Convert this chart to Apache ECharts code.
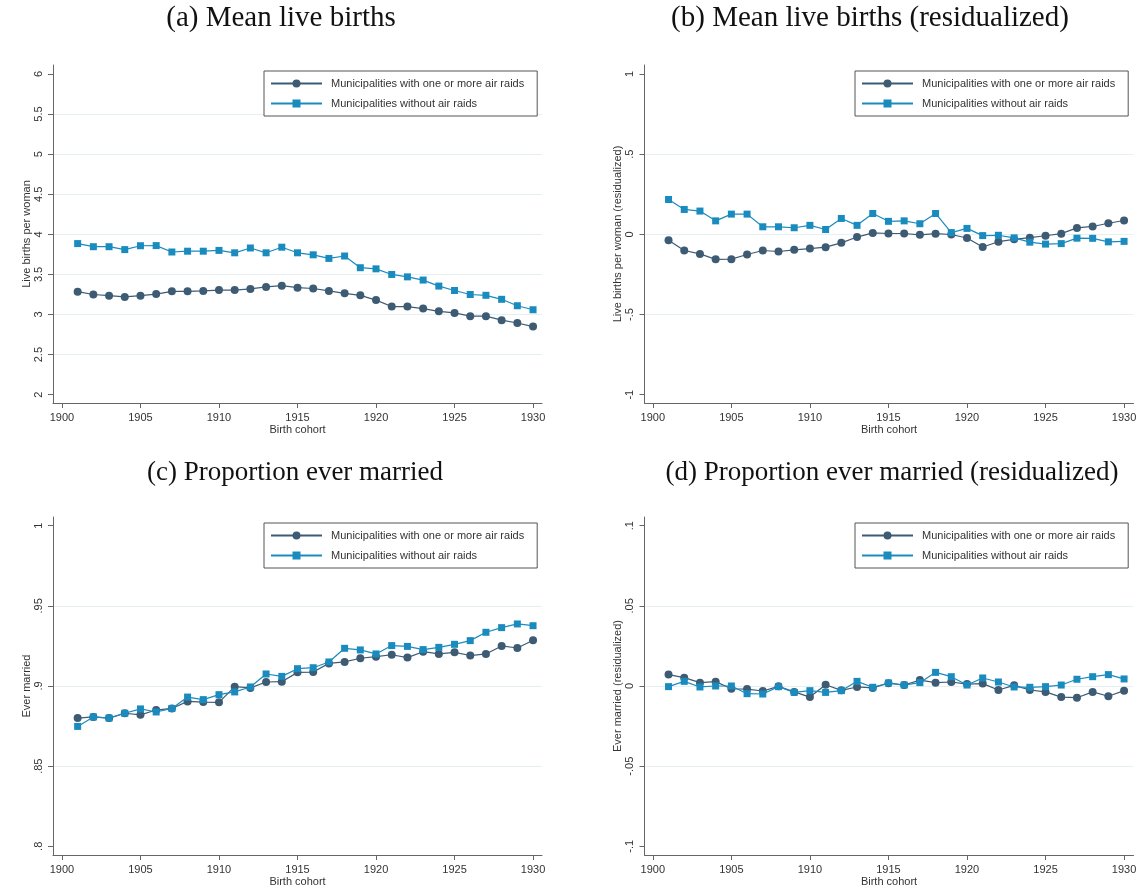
<!DOCTYPE html>
<html>
<head>
<meta charset="utf-8">
<title>Live births and marriage by air raid exposure</title>
<script src="https://cdn.jsdelivr.net/npm/echarts@6/dist/echarts.min.js"></script>
<style>
  html, body { margin: 0; padding: 0; background: #fff; }
  #chart { width: 1142px; height: 891px; }
</style>
</head>
<body>
<div id="chart"></div>
<script>
// birth cohorts on the x axis
const years = [1901, 1902, 1903, 1904, 1905, 1906, 1907, 1908, 1909, 1910,
  1911, 1912, 1913, 1914, 1915, 1916, 1917, 1918, 1919, 1920,
  1921, 1922, 1923, 1924, 1925, 1926, 1927, 1928, 1929, 1930];
const xTicks = [1900, 1905, 1910, 1915, 1920, 1925, 1930];

// (a) mean live births
const birthsRaid = [3.285, 3.25, 3.235, 3.22, 3.235, 3.255, 3.29, 3.29, 3.295, 3.305,
  3.305, 3.32, 3.345, 3.36, 3.335, 3.325, 3.295, 3.265, 3.24, 3.18,
  3.10, 3.10, 3.075, 3.04, 3.02, 2.98, 2.98, 2.93, 2.895, 2.85];
const birthsNoRaid = [3.885, 3.846, 3.846, 3.81, 3.858, 3.86, 3.78, 3.79, 3.79, 3.80,
  3.77, 3.83, 3.77, 3.84, 3.77, 3.745, 3.70, 3.73, 3.584, 3.57,
  3.50, 3.47, 3.43, 3.355, 3.30, 3.25, 3.24, 3.19, 3.11, 3.06];
const yTicksBirths = [2, 2.5, 3, 3.5, 4, 4.5, 5, 5.5, 6];

// (b) mean live births, residualized
const birthsResRaid = [-0.037, -0.101, -0.122, -0.156, -0.155, -0.126, -0.101, -0.107, -0.097, -0.089,
  -0.08, -0.053, -0.017, 0.009, 0.005, 0.005, -0.003, 0.004, -0.001, -0.023,
  -0.079, -0.046, -0.031, -0.021, -0.009, 0.004, 0.04, 0.049, 0.069, 0.086];
const birthsResNoRaid = [0.217, 0.155, 0.145, 0.084, 0.126, 0.126, 0.047, 0.047, 0.041, 0.056,
  0.03, 0.099, 0.056, 0.13, 0.081, 0.084, 0.066, 0.13, 0.011, 0.037,
  -0.008, -0.006, -0.022, -0.049, -0.061, -0.058, -0.024, -0.025, -0.047, -0.044];
const yTicksBirthsRes = [-1, -0.5, 0, 0.5, 1];

// (c) proportion ever married
const marriedRaid = [0.880, 0.8807, 0.880, 0.883, 0.882, 0.885, 0.886, 0.8904, 0.890, 0.8898,
  0.8996, 0.8988, 0.9025, 0.9027, 0.9085, 0.9087, 0.9141, 0.915, 0.9173, 0.9183,
  0.9195, 0.9177, 0.9214, 0.920, 0.921, 0.919, 0.920, 0.925, 0.9237, 0.9285];
const marriedNoRaid = [0.8748, 0.8807, 0.880, 0.883, 0.8857, 0.8838, 0.886, 0.8931, 0.8915, 0.8946,
  0.8963, 0.8994, 0.9075, 0.906, 0.9108, 0.9114, 0.915, 0.9235, 0.9225, 0.920,
  0.9252, 0.9247, 0.9227, 0.9241, 0.926, 0.9283, 0.9335, 0.9364, 0.9387, 0.9376];
const yTicksMarried = [0.8, 0.85, 0.9, 0.95, 1];

// (d) proportion ever married, residualized
const marriedResRaid = [0.0071, 0.0052, 0.0021, 0.0027, -0.0017, -0.0019, -0.0031, -0.0002, -0.0037, -0.0069,
  0.0008, -0.0027, -0.0006, -0.0012, 0.0017, 0.0006, 0.0037, 0.0021, 0.0025, 0.0012,
  0.0015, -0.0025, 0.0004, -0.0025, -0.0037, -0.0069, -0.0073, -0.0037, -0.0064, -0.0029];
const marriedResNoRaid = [-0.0004, 0.0029, -0.0006, 0.0, 0.0, -0.0048, -0.005, -0.0004, -0.004, -0.0029,
  -0.004, -0.0029, 0.0029, -0.0008, 0.0019, 0.0006, 0.0021, 0.0085, 0.0058, 0.0006,
  0.005, 0.0025, -0.0006, -0.0008, -0.0004, 0.0006, 0.0042, 0.0058, 0.0071, 0.0044];
const yTicksMarriedRes = [-0.1, -0.05, 0, 0.05, 0.1];

const seriesNames = ["Municipalities with one or more air raids", "Municipalities without air raids"];
const panelTitles = ["(a) Mean live births", "(b) Mean live births (residualized)",
  "(c) Proportion ever married", "(d) Proportion ever married (residualized)"];
const yNames = ["Live births per woman", "Live births per woman (residualized)",
  "Ever married", "Ever married (residualized)"];
const xName = "Birth cohort";

const panelData = [
  [birthsRaid, birthsNoRaid, yTicksBirths],
  [birthsResRaid, birthsResNoRaid, yTicksBirthsRes],
  [marriedRaid, marriedNoRaid, yTicksMarried],
  [marriedResRaid, marriedResNoRaid, yTicksMarriedRes],
];

// layout of the four panels (pixels) and the axis ranges around the ticks
const layout = [
  { left: 53, top: 65, xMin: 1899.43, xMax: 1930.57, yMin: 1.897, yMax: 6.112, titleX: 281, titleY: 18.5, titleSize: 29, legendX: 264, legendY: 71 },
  { left: 644.5, top: 65, xMin: 1899.47, xMax: 1930.6, yMin: -1.052, yMax: 1.056, titleX: 870, titleY: 18.5, titleSize: 29, legendX: 855, legendY: 71 },
  { left: 53, top: 517, xMin: 1899.43, xMax: 1930.57, yMin: 0.7946, yMax: 1.0054, titleX: 295, titleY: 472.5, titleSize: 27, legendX: 264, legendY: 523 },
  { left: 644.5, top: 517, xMin: 1899.47, xMax: 1930.6, yMin: -0.1054, yMax: 0.1054, titleX: 892, titleY: 472.5, titleSize: 27, legendX: 855, legendY: 523 },
];

const sans = '"Liberation Sans", Arial, sans-serif';
const textColor = "#333";
const axisColor = "#666";
const colors = ["#3e5b74", "#1a8bbe"];
const symbols = ["circle", "rect"];
const symbolSizes = [8, 7];

// Stata style labels: .5 instead of 0.5
function stataLabel(v) {
  return String(+v.toFixed(4)).replace(/^(-?)0\./, "$1.");
}

const grid = [], xAxis = [], yAxis = [], series = [], legend = [], graphic = [];

layout.forEach((p, i) => {
  const yTicks = panelData[i][2];
  grid.push({ left: p.left, top: p.top, width: 489, height: 338 });

  xAxis.push({
    type: "value", gridIndex: i, min: p.xMin, max: p.xMax,
    name: xName, nameLocation: "middle", nameGap: 21,
    nameTextStyle: { fontFamily: sans, fontSize: 11, color: textColor },
    axisLine: { show: true, onZero: false, lineStyle: { color: axisColor, width: 1 } },
    axisTick: { show: true, length: 5, customValues: xTicks, lineStyle: { color: axisColor } },
    axisLabel: {
      customValues: xTicks, margin: 9, fontFamily: sans, fontSize: 11, color: textColor,
      formatter: (v) => String(v),
    },
    splitLine: { show: false },
  });

  yAxis.push({
    type: "value", gridIndex: i, min: p.yMin, max: p.yMax,
    name: yNames[i], nameLocation: "middle", nameRotate: 90, nameGap: 21,
    nameTextStyle: { fontFamily: sans, fontSize: 11, color: textColor },
    axisLine: { show: true, onZero: false, lineStyle: { color: axisColor, width: 1 } },
    axisTick: { show: true, length: 5, customValues: yTicks, lineStyle: { color: axisColor } },
    axisLabel: {
      customValues: yTicks, rotate: 90, margin: 9,
      fontFamily: sans, fontSize: 11, color: textColor, formatter: stataLabel,
    },
    splitLine: { show: false },
  });

  legend.push({
    left: p.legendX, top: p.legendY, orient: "vertical",
    itemWidth: 51, itemHeight: 10, itemGap: 9,
    padding: [7, 13, 7, 6],
    borderColor: "#555", borderWidth: 1, backgroundColor: "#fff",
    selectedMode: false,
    textStyle: { fontFamily: sans, fontSize: 11, color: textColor, lineHeight: 10, padding: [0, 0, 0, 4] },
    data: seriesNames,
  });

  graphic.push({
    type: "text", x: p.titleX, y: p.titleY, silent: true,
    style: {
      text: panelTitles[i], fill: "#111",
      font: p.titleSize + 'px "Liberation Serif", "Times New Roman", serif',
      align: "center", verticalAlign: "middle",
    },
  });

  [0, 1].forEach((k) => {
    series.push({
      type: "line", name: seriesNames[k],
      xAxisIndex: i, yAxisIndex: i,
      data: years.map((yr, j) => [yr, panelData[i][k][j]]),
      symbol: symbols[k], symbolSize: symbolSizes[k], showSymbol: true,
      lineStyle: { color: colors[k], width: 1.2 },
      itemStyle: { color: colors[k] },
      z: 3 + k,
    });
  });
});

// light grid lines only on the inner ticks, drawn by a hidden second y axis per panel
layout.forEach((p, i) => {
  const inner = panelData[i][2].slice(1, -1);
  yAxis.push({
    type: "value", gridIndex: i, min: p.yMin, max: p.yMax,
    axisLine: { show: false },
    axisTick: { show: false, customValues: inner },
    axisLabel: { show: false, customValues: inner },
    splitLine: { show: true, lineStyle: { color: "#e6eff1", width: 1 } },
  });
});

let myChart = echarts.init(document.getElementById("chart"));
myChart.setOption({
  backgroundColor: "#fff",
  animation: false,
  grid: grid,
  xAxis: xAxis,
  yAxis: yAxis,
  legend: legend,
  series: series,
  graphic: graphic,
});
</script>
</body>
</html>
